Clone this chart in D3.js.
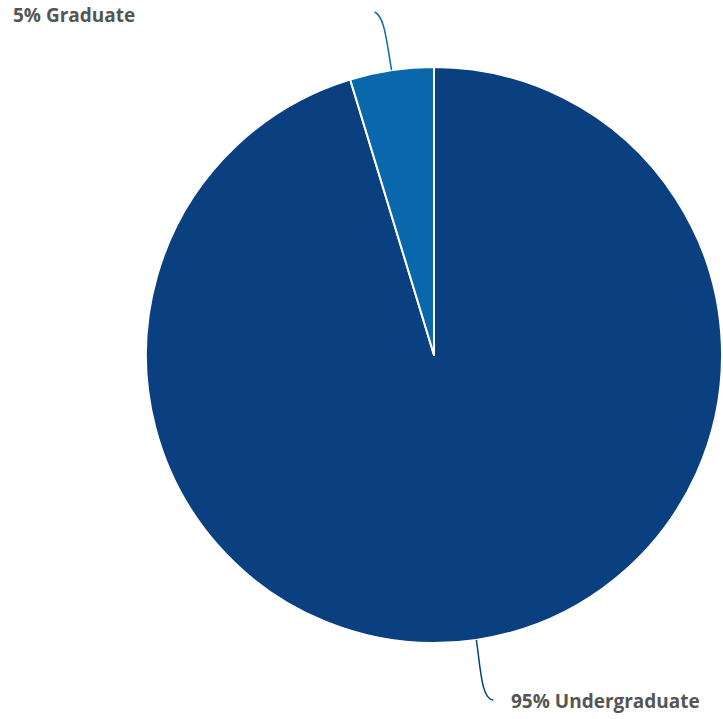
<!DOCTYPE html>
<html>
<head>
<meta charset="utf-8">
<script src="https://cdn.jsdelivr.net/npm/d3@7"></script>
<style>
  html, body { margin: 0; padding: 0; background: #fff; }
  svg { display: block; }
  text { font-family: "Open Sans", Lato, sans-serif; font-weight: 700; fill: #555; }
</style>
</head>
<body>
<svg id="chart" width="723" height="719"></svg>
<script>
const categories = ["Undergraduate", "Graduate"];
const values = [95.3, 4.7];
const labels = ["95% Undergraduate", "5% Graduate"];
const colors = ["#0a3f80", "#0868ab"];

const width = 723, height = 719;
const cx = 434, cy = 355, radius = 288;

const svg = d3.select("#chart");
const g = svg.append("g").attr("transform", `translate(${cx},${cy})`);

const data = categories.map((c, i) => ({ name: c, value: values[i], label: labels[i], color: colors[i] }));
const pie = d3.pie().value(d => d.value).sort(null);
const arc = d3.arc().innerRadius(0).outerRadius(radius);
const arcs = pie(data);

g.selectAll("path.slice")
  .data(arcs)
  .join("path")
  .attr("class", "slice")
  .attr("d", arc)
  .attr("fill", d => d.data.color)
  .attr("stroke", "#fff")
  .attr("stroke-width", 2)
  .attr("stroke-linejoin", "round");

// connectors + labels
arcs.forEach(a => {
  const mid = (a.startAngle + a.endAngle) / 2;
  const ex = Math.sin(mid) * radius, ey = -Math.cos(mid) * radius;
  let path, tx, ty, anchor;
  if (Math.cos(mid) > 0) {
    const lx = ex - 17, ly = -343;
    path = `M${ex},${ey} C${ex - 5},${ey - 28} ${ex - 7},${ly + 4} ${lx},${ly}`;
    tx = 13 - cx; ty = 22 - cy; anchor = "start";
  } else {
    const lx = ex + 17, ly = 345;
    path = `M${ex},${ey} C${ex + 4},${ey + 27} ${ex + 5},${ly} ${lx},${ly}`;
    tx = 511 - cx; ty = 708 - cy; anchor = "start";
  }
  g.append("path")
    .attr("d", path)
    .attr("fill", "none")
    .attr("stroke", a.data.color)
    .attr("stroke-width", 1.5);
  g.append("text")
    .attr("x", tx).attr("y", ty)
    .attr("text-anchor", anchor)
    .attr("font-size", 19)
    .text(a.data.label);
});
</script>
</body>
</html>
